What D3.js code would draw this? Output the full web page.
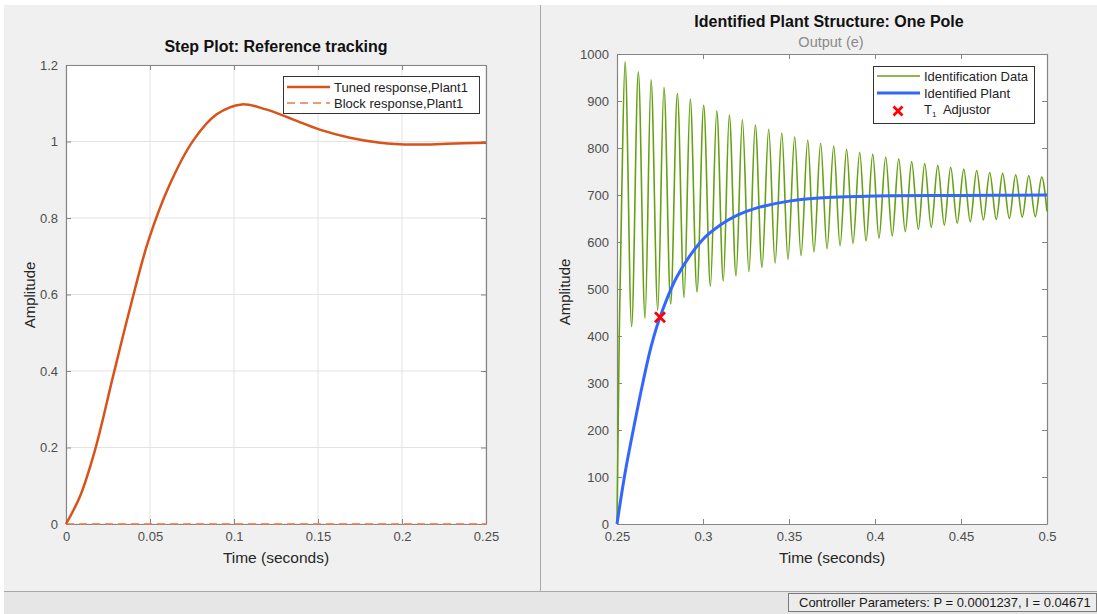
<!DOCTYPE html>
<html>
<head>
<meta charset="utf-8">
<script src="https://cdn.jsdelivr.net/npm/d3@7"></script>
<style>
  body { margin: 0; background: #fff; font-family: "Liberation Sans", Arial, sans-serif; }
  text { white-space: pre; }
</style>
</head>
<body>
<svg id="fig" width="1097" height="614"></svg>
<script>
// Step plot data (left)
const stepTime = [0, 0.0083, 0.0173, 0.028, 0.038, 0.049, 0.062, 0.0758, 0.0897, 0.1046, 0.119, 0.135, 0.151, 0.169, 0.187, 0.2066, 0.2266, 0.25];
const tunedResp = [0, 0.072, 0.194, 0.386, 0.562, 0.74, 0.89, 1.003, 1.071, 1.097, 1.084, 1.058, 1.031, 1.01, 0.997, 0.992, 0.994, 0.997];
const blockTime = [0, 0.25];
const blockResp = [0, 0];
const leftXTicks = [0, 0.05, 0.1, 0.15, 0.2, 0.25];
const leftYTicks = [0, 0.2, 0.4, 0.6, 0.8, 1, 1.2];

// Identification data (right) - read from peaks / troughs
const idTime = [0.25, 0.2513, 0.2527, 0.2547, 0.2585, 0.2624, 0.2663, 0.2698, 0.2737, 0.2773, 0.2812, 0.2851, 0.289, 0.2926, 0.2965,
  0.3004, 0.3043, 0.308, 0.3118, 0.3153, 0.3192, 0.3229, 0.3267, 0.3304, 0.3343, 0.3382, 0.3419, 0.3458, 0.3494, 0.3533, 0.357,
  0.3609, 0.3645, 0.3684, 0.3721, 0.376, 0.3797, 0.3835, 0.3872, 0.3911, 0.3948, 0.3987, 0.4023, 0.4062, 0.41, 0.4138, 0.4176,
  0.4213, 0.4252, 0.4289, 0.4327, 0.4365, 0.4403, 0.444, 0.4478, 0.4516, 0.4554, 0.4591, 0.463, 0.4667, 0.4705, 0.4742, 0.4781,
  0.4818, 0.4856, 0.4894, 0.4932, 0.4969, 0.5];
const idOutput = [0, 398, 689, 984, 420, 962, 438, 945, 455, 929, 468, 916, 482, 904, 494,
  891, 506, 879, 517, 870, 528, 860, 537, 849, 546, 840, 555, 832, 563, 824, 571,
  817, 579, 810, 586, 804, 592, 797, 597, 791, 602, 787, 608, 781, 613, 777, 622,
  771, 627, 767, 631, 763, 636, 759, 640, 755, 643, 752, 647, 748, 648, 746, 650,
  743, 653, 741, 654, 738, 665];
const plantTime = [0.25, 0.2525, 0.255, 0.26, 0.265, 0.27, 0.275, 0.285, 0.3, 0.31, 0.32, 0.33, 0.35, 0.37, 0.4, 0.45, 0.5];
const plantOutput = [0, 60, 115, 210, 300, 380, 440, 527, 606, 636, 657, 671, 687, 694, 698, 699, 700];
const adjTime = [0.275];
const adjOutput = [440];
const rightXTicks = [0.25, 0.3, 0.35, 0.4, 0.45, 0.5];
const rightYTicks = [0, 100, 200, 300, 400, 500, 600, 700, 800, 900, 1000];

const svg = d3.select("#fig");
const axisColor = "#858585";
const tickText = "#4d4d4d";

// window background
svg.append("rect").attr("width", 1097).attr("height", 614).attr("fill", "#fff");
svg.append("rect").attr("x", 4).attr("y", 5).attr("width", 1093).attr("height", 586).attr("fill", "#f0f0f0");
svg.append("rect").attr("x", 4).attr("y", 592).attr("width", 1093).attr("height", 22).attr("fill", "#e6e6e6");
svg.append("line").attr("x1", 4).attr("x2", 1097).attr("y1", 591.5).attr("y2", 591.5).attr("stroke", "#a8a8a8");
svg.append("line").attr("x1", 540.5).attr("x2", 540.5).attr("y1", 5).attr("y2", 591).attr("stroke", "#a8a8a8");

function drawAxes(x, y, xt, yt, grid) {
  const [x0, x1] = x.range(), [y0, y1] = y.range();
  const g = svg.append("g");
  g.append("rect").attr("x", x0).attr("y", y1).attr("width", x1 - x0).attr("height", y0 - y1).attr("fill", "#fff");
  if (grid) {
    g.selectAll(".vg").data(xt).enter().append("line")
      .attr("x1", d => x(d)).attr("x2", d => x(d)).attr("y1", y0).attr("y2", y1)
      .attr("stroke", "#e3e3e3");
    g.selectAll(".hg").data(yt).enter().append("line")
      .attr("x1", x0).attr("x2", x1).attr("y1", d => y(d)).attr("y2", d => y(d))
      .attr("stroke", "#e3e3e3");
  }
  const sides = [
    [d3.axisBottom(x).tickValues(xt).tickFormat(d => d), `translate(0,${y0})`],
    [d3.axisTop(x).tickValues(xt).tickFormat(""), `translate(0,${y1})`],
    [d3.axisLeft(y).tickValues(yt).tickFormat(d => d), `translate(${x0},0)`],
    [d3.axisRight(y).tickValues(yt).tickFormat(""), `translate(${x1},0)`]
  ];
  sides.forEach(([ax, tr]) => {
    const a = g.append("g").attr("transform", tr)
      .call(ax.tickSizeInner(-5).tickSizeOuter(0).tickPadding(8));
    a.select(".domain").attr("stroke", axisColor).attr("stroke-width", 1.2);
    a.selectAll(".tick line").attr("stroke", axisColor);
    a.selectAll(".tick text").attr("fill", tickText).style("font-size", "13px")
      .style("font-family", "'Liberation Sans', Arial, sans-serif");
  });
  return g;
}

// ---------- Left: step plot ----------
const xL = d3.scaleLinear().domain([0, 0.25]).range([66, 486]);
const yL = d3.scaleLinear().domain([0, 1.2]).range([524, 65]);
drawAxes(xL, yL, leftXTicks, leftYTicks, true);

const lineL = d3.line().x(d => xL(d[0])).y(d => yL(d[1])).curve(d3.curveCatmullRom.alpha(0.5));
svg.append("path")
  .attr("d", lineL(d3.zip(blockTime, blockResp)))
  .attr("fill", "none").attr("stroke", "#e67a4c").attr("stroke-width", 1.5).attr("stroke-dasharray", "8,5");
svg.append("path")
  .attr("d", lineL(d3.zip(stepTime, tunedResp)))
  .attr("fill", "none").attr("stroke", "#d95319").attr("stroke-width", 2.5);

svg.append("text").attr("x", 276).attr("y", 52).attr("text-anchor", "middle")
  .style("font-size", "16px").style("font-weight", "bold").attr("fill", "#111")
  .text("Step Plot: Reference tracking");
svg.append("text").attr("x", 276).attr("y", 563).attr("text-anchor", "middle")
  .style("font-size", "15.5px").attr("fill", "#262626").text("Time (seconds)");
svg.append("text").attr("transform", "translate(35,295) rotate(-90)").attr("text-anchor", "middle")
  .style("font-size", "15px").attr("fill", "#262626").text("Amplitude");

// legend left
const legL = svg.append("g");
legL.append("rect").attr("x", 283.5).attr("y", 76.5).attr("width", 196).attr("height", 37)
  .attr("fill", "#fff").attr("stroke", "#333");
legL.append("line").attr("x1", 287).attr("x2", 330).attr("y1", 87).attr("y2", 87)
  .attr("stroke", "#d95319").attr("stroke-width", 2.5);
legL.append("line").attr("x1", 287).attr("x2", 330).attr("y1", 103).attr("y2", 103)
  .attr("stroke", "#e67a4c").attr("stroke-width", 1.5).attr("stroke-dasharray", "8,5");
legL.append("text").attr("x", 334).attr("y", 91.5).style("font-size", "13px").attr("fill", "#222")
  .text("Tuned response,Plant1");
legL.append("text").attr("x", 334).attr("y", 107.5).style("font-size", "13px").attr("fill", "#222")
  .text("Block response,Plant1");

// ---------- Right: identified plant ----------
const xR = d3.scaleLinear().domain([0.25, 0.5]).range([617, 1047]);
const yR = d3.scaleLinear().domain([0, 1000]).range([524, 54]);
drawAxes(xR, yR, rightXTicks, rightYTicks, false);

const lineR = d3.line().x(d => xR(d[0])).y(d => yR(d[1])).curve(d3.curveMonotoneX);
svg.append("path")
  .attr("d", lineR(d3.zip(idTime, idOutput)))
  .attr("fill", "none").attr("stroke", "#67a014").attr("stroke-width", 1.6);
const lineP = d3.line().x(d => xR(d[0])).y(d => yR(d[1])).curve(d3.curveCatmullRom.alpha(0.5));
svg.append("path")
  .attr("d", lineP(d3.zip(plantTime, plantOutput)))
  .attr("fill", "none").attr("stroke", "#3366ff").attr("stroke-width", 3);

function xMark(g, cx, cy, r) {
  g.append("path").attr("d", `M${cx - r},${cy - r}L${cx + r},${cy + r}M${cx + r},${cy - r}L${cx - r},${cy + r}`)
    .attr("stroke", "#ff0000").attr("stroke-width", 2.8).attr("fill", "none");
}
d3.zip(adjTime, adjOutput).forEach(d => xMark(svg, xR(d[0]), yR(d[1]), 5));

svg.append("text").attr("x", 829).attr("y", 27).attr("text-anchor", "middle")
  .style("font-size", "16px").style("font-weight", "bold").attr("fill", "#111")
  .text("Identified Plant Structure: One Pole");
svg.append("text").attr("x", 831).attr("y", 47).attr("text-anchor", "middle")
  .style("font-size", "14.5px").attr("fill", "#8a8a8a")
  .text("Output (e)");
svg.append("text").attr("x", 832).attr("y", 563).attr("text-anchor", "middle")
  .style("font-size", "15.5px").attr("fill", "#262626").text("Time (seconds)");
svg.append("text").attr("transform", "translate(570,292) rotate(-90)").attr("text-anchor", "middle")
  .style("font-size", "15px").attr("fill", "#262626").text("Amplitude");

// legend right
const legR = svg.append("g");
legR.append("rect").attr("x", 873.5).attr("y", 66.5).attr("width", 161).attr("height", 57)
  .attr("fill", "#fff").attr("stroke", "#333");
legR.append("line").attr("x1", 877).attr("x2", 920).attr("y1", 76).attr("y2", 76)
  .attr("stroke", "#67a014").attr("stroke-width", 1.6);
legR.append("line").attr("x1", 877).attr("x2", 920).attr("y1", 93).attr("y2", 93)
  .attr("stroke", "#3366ff").attr("stroke-width", 3);
xMark(legR, 898, 111, 4.5);
legR.append("text").attr("x", 924).attr("y", 80.5).style("font-size", "13px").attr("fill", "#222")
  .text("Identification Data");
legR.append("text").attr("x", 924).attr("y", 97.5).style("font-size", "13px").attr("fill", "#222")
  .text("Identified Plant");
const t3 = legR.append("text").attr("x", 924).attr("y", 114).style("font-size", "13px").attr("fill", "#222");
t3.append("tspan").text("T");
t3.append("tspan").attr("dy", 3).style("font-size", "8px").text("1");
t3.append("tspan").attr("dy", -3).text("  Adjustor");

// status bar
svg.append("rect").attr("x", 788.5).attr("y", 593.5).attr("width", 308).attr("height", 18)
  .attr("fill", "#ececec").attr("stroke", "#7a7a7a");
svg.append("text").attr("x", 799).attr("y", 607).style("font-size", "13px").attr("fill", "#1a1a1a")
  .text("Controller Parameters: P = 0.0001237, I = 0.04671");
</script>
</body>
</html>
